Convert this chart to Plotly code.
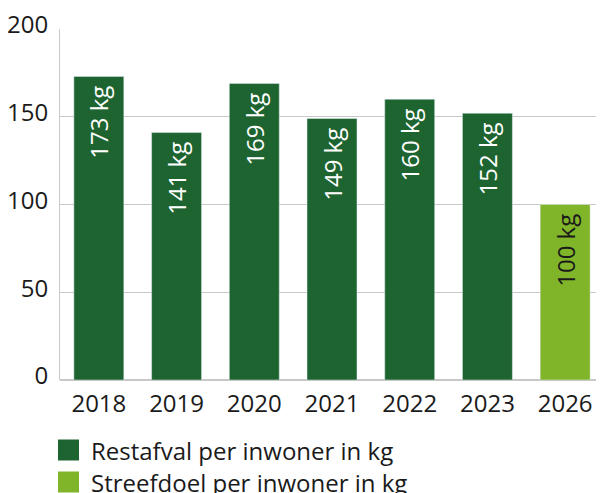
import plotly.graph_objects as go

years_actual = ["2018", "2019", "2020", "2021", "2022", "2023"]
values_actual = [173, 141, 169, 149, 160, 152]
years_goal = ["2026"]
values_goal = [100]
categories = years_actual + years_goal
series_names = ["Restafval per inwoner in kg", "Streefdoel per inwoner in kg"]
y_ticks = [0, 50, 100, 150, 200]

DARK = "#1e6430"
LIGHT = "#80b52a"
FONT = "Open Sans"
TXT = "#1a1a1a"
FS = 24

# page body has an 8px margin; figure coordinates are page coordinates - 8
L, T, PW, PH = 52, 21, 544, 351

fig = go.Figure()
fig.add_trace(go.Bar(
    x=years_actual, y=values_actual, name=series_names[0],
    marker_color=DARK, texttemplate="%{y} kg\u00a0", textposition="inside",
    insidetextanchor="end", textangle=-90,
    textfont=dict(color="white", size=FS, family=FONT),
    showlegend=False,
))
fig.add_trace(go.Bar(
    x=years_goal, y=values_goal, name=series_names[1],
    marker_color=LIGHT, texttemplate="%{y} kg\u00a0", textposition="inside",
    insidetextanchor="end", textangle=-90,
    textfont=dict(color=TXT, size=FS, family=FONT),
    showlegend=False,
))

# manual legend (figure coordinates converted to paper)
def px(x):
    return (x - L) / PW

def py(y):
    return (T + PH - y) / PH

leg_y = [442, 474]
for name, col, yc in zip(series_names, [DARK, LIGHT], leg_y):
    fig.add_shape(type="rect", xref="paper", yref="paper",
                  x0=px(50), x1=px(71),
                  y0=py(yc + 10.5), y1=py(yc - 10.5),
                  fillcolor=col, line_width=0)
    fig.add_annotation(xref="paper", yref="paper", x=px(81),
                       y=py(yc), text=name, showarrow=False,
                       xanchor="left", yanchor="middle",
                       font=dict(size=FS, family=FONT, color=TXT))

fig.update_layout(
    width=596, height=485,
    margin=dict(l=L, r=0, t=T, b=485 - T - PH, pad=0),
    paper_bgcolor="white", plot_bgcolor="white",
    barmode="overlay", bargap=0.357,
    font=dict(family=FONT, size=FS, color=TXT),
    xaxis=dict(type="category", categoryorder="array", categoryarray=categories,
               showgrid=False, showline=False, ticks="", ticklabelstandoff=7,
               tickfont=dict(size=FS, family=FONT, color=TXT)),
    yaxis=dict(range=[0, 200], tickvals=y_ticks, showgrid=True, gridcolor="#c8c8c8",
               gridwidth=1, showline=True, linecolor="#c8c8c8", linewidth=1,
               zeroline=True, zerolinecolor="#c8c8c8", ticks="", ticklabelstandoff=6,
               ticklabelshift=-4, ticklabeloverflow="allow",
               tickfont=dict(size=FS, family=FONT, color=TXT)),
)

fig.write_html("out.html")
